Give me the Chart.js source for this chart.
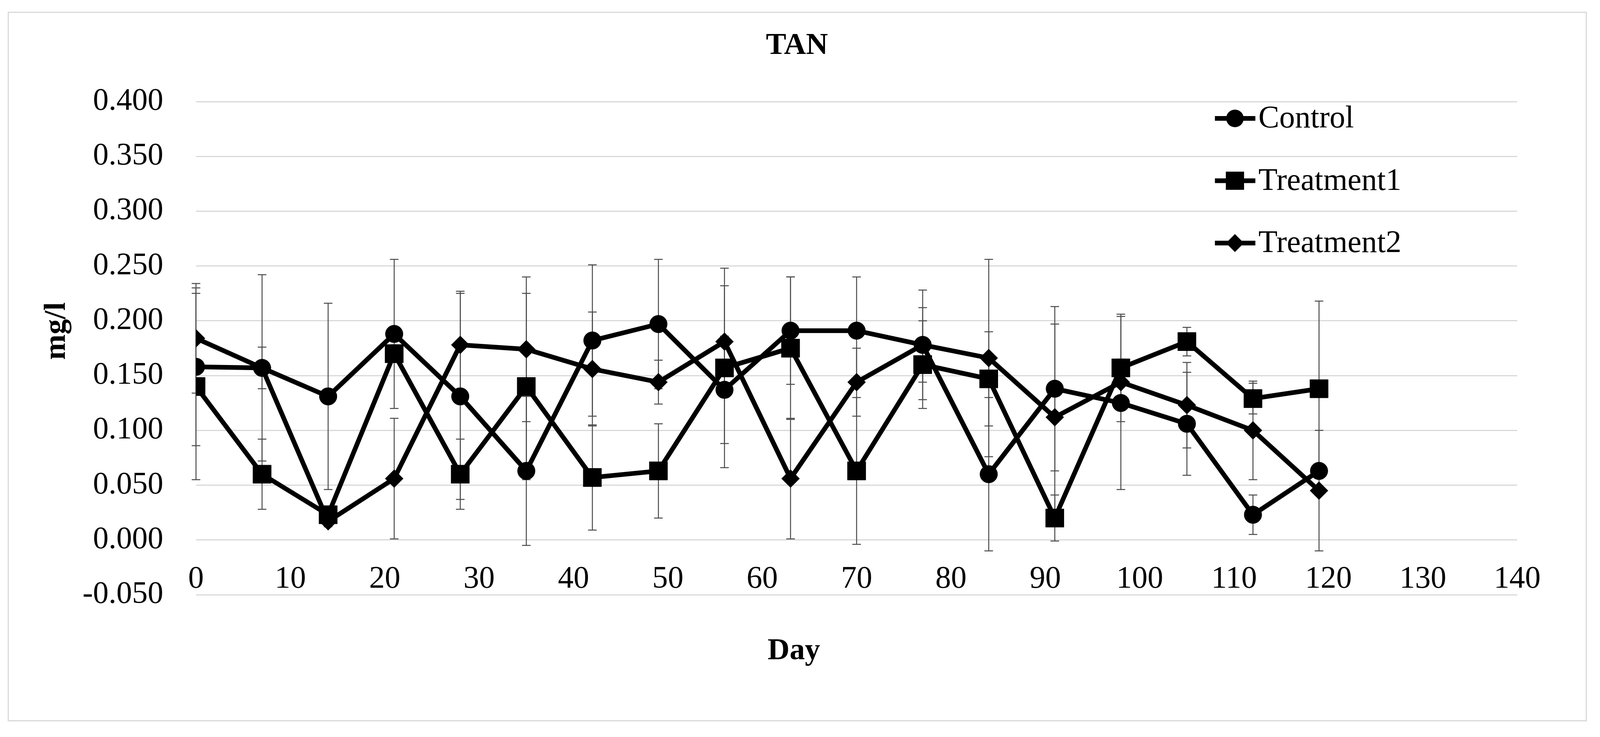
<!DOCTYPE html>
<html>
<head>
<meta charset="utf-8">
<title>TAN</title>
<script src="https://cdn.jsdelivr.net/npm/chart.js@4.4.1/dist/chart.umd.min.js"></script>
<style>
  html, body { margin: 0; padding: 0; background: #fff; overflow: hidden; }
  canvas { display: block; }
</style>
</head>
<body>
<canvas id="tanChart"></canvas>
<script>
// sampling days
const days = [0, 7, 14, 21, 28, 35, 42, 49, 56, 63, 70, 77, 84, 91, 98, 105, 112, 119];

// TAN (mg/l) means
const control    = [0.158, 0.157, 0.131, 0.188, 0.131, 0.063, 0.182, 0.197, 0.137, 0.191, 0.191, 0.178, 0.060, 0.138, 0.125, 0.106, 0.023, 0.063];
const treatment1 = [0.140, 0.060, 0.023, 0.170, 0.060, 0.140, 0.057, 0.063, 0.157, 0.175, 0.063, 0.160, 0.147, 0.020, 0.157, 0.181, 0.129, 0.138];
const treatment2 = [0.184, 0.157, 0.017, 0.056, 0.178, 0.174, 0.156, 0.144, 0.181, 0.056, 0.144, 0.178, 0.166, 0.112, 0.144, 0.123, 0.100, 0.045];

// standard deviations (error bars)
const controlErr    = [0.072, 0.085, 0.085, 0.068, 0.094, 0.068, 0.069, 0.059, 0.049, 0.049, 0.049, 0.050, 0.070, 0.075, 0.079, 0.047, 0.018, 0.005];
const treatment1Err = [0.085, 0.032, 0.005, 0.008, 0.032, 0.085, 0.048, 0.043, 0.091, 0.065, 0.067, 0.040, 0.043, 0.021, 0.049, 0.013, 0.014, 0.080];
const treatment2Err = [0.050, 0.019, 0.005, 0.055, 0.049, 0.066, 0.052, 0.020, 0.051, 0.055, 0.031, 0.034, 0.090, 0.085, 0.021, 0.039, 0.045, 0.055];

const seriesNames = ['Control', 'Treatment1', 'Treatment2'];
const yTickMin = -0.05, yTickMax = 0.4, yTickStep = 0.05;
const xTickMin = 0, xTickMax = 140, xTickStep = 10;

const toPoints = (vals) => days.map((d, i) => ({ x: d, y: vals[i] }));

// the layout was measured on a 4155 px wide picture; scale it to the window
const W = window.innerWidth || 4155;
const H = 1886;
const k = W / 4155;

const canvas = document.getElementById('tanChart');
canvas.width = W;
canvas.height = H;

Chart.defaults.font.family = "'Liberation Serif', 'Times New Roman', serif";
Chart.defaults.color = '#000';

// same marker shapes as the datasets, for the legend
function drawMarker(ctx, style, x, y, r) {
    ctx.beginPath();
    if (style === 'circle') {
        ctx.arc(x, y, r, 0, Math.PI * 2);
    } else if (style === 'rect') {
        const s = r * Math.SQRT1_2;
        ctx.rect(x - s, y - s, 2 * s, 2 * s);
    } else {
        ctx.moveTo(x - r, y);
        ctx.lineTo(x, y - r);
        ctx.lineTo(x + r, y);
        ctx.lineTo(x, y + r);
        ctx.closePath();
    }
    ctx.fill();
}

// white background and the light outer frame
const frame = {
    id: 'frame',
    beforeDraw(chart) {
        const { ctx } = chart;
        ctx.save();
        ctx.fillStyle = '#fff';
        ctx.fillRect(0, 0, chart.width, chart.height);
        ctx.strokeStyle = '#d9d9d9';
        ctx.lineWidth = 3;
        ctx.strokeRect(21.5 * k, 31.5, 4098 * k, 1813);
        ctx.restore();
    }
};

const errorBars = {
    id: 'errorBars',
    beforeDatasetsDraw(chart) {
        const { ctx, scales: { x, y } } = chart;
        ctx.save();
        ctx.strokeStyle = '#4a4a4a';
        ctx.lineWidth = 2.5;
        chart.data.datasets.forEach(ds => {
            ds.data.forEach((pt, i) => {
                const e = ds.errors[i];
                const px = x.getPixelForValue(pt.x);
                const top = y.getPixelForValue(pt.y + e);
                const bot = y.getPixelForValue(pt.y - e);
                ctx.beginPath();
                ctx.moveTo(px, top); ctx.lineTo(px, bot);
                ctx.moveTo(px - 11, top); ctx.lineTo(px + 11, top);
                ctx.moveTo(px - 11, bot); ctx.lineTo(px + 11, bot);
                ctx.stroke();
            });
        });
        ctx.restore();
    }
};

// chart title, axis titles and the legend inside the plot
const chartText = {
    id: 'chartText',
    afterDraw(chart) {
        const { ctx, chartArea, scales: { y } } = chart;
        const cx = chart.width / 2 - 8 * k;
        ctx.save();
        ctx.fillStyle = '#000';
        ctx.textAlign = 'center';
        ctx.textBaseline = 'middle';
        ctx.font = "bold 78px 'Liberation Serif', serif";
        ctx.fillText('TAN', cx, 118);
        ctx.fillText('Day', cx - 8 * k, y.getPixelForValue(0) + 285);

        ctx.save();
        ctx.translate(148 * k, 847);
        ctx.rotate(-Math.PI / 2);
        ctx.fillText('mg/l', 0, 0);
        ctx.restore();

        const lx = chartArea.right - 785 * k;
        const ly = chartArea.top + 43;
        ctx.font = "80px 'Liberation Serif', serif";
        ctx.textAlign = 'left';
        chart.data.datasets.forEach((ds, i) => {
            const cy = ly + i * 159.5;
            ctx.strokeStyle = '#000';
            ctx.lineWidth = 12;
            ctx.beginPath();
            ctx.moveTo(lx, cy);
            ctx.lineTo(lx + 105 * k, cy);
            ctx.stroke();
            drawMarker(ctx, ds.pointStyle, lx + 52 * k, cy, ds.pointRadius);
            ctx.fillText(ds.label, lx + 113 * k, cy + 2);
        });
        ctx.restore();
    }
};

function makeSet(label, vals, errs, style, radius) {
    return {
        label: label,
        data: toPoints(vals),
        errors: errs,
        borderColor: '#000',
        backgroundColor: '#000',
        borderWidth: 12,
        pointStyle: style,
        pointRadius: radius,
        pointHoverRadius: radius,
        pointBackgroundColor: '#000',
        pointBorderColor: '#000',
        pointBorderWidth: 1,
        tension: 0
    };
}

const tanChart = new Chart(canvas.getContext('2d'), {
    type: 'line',
    data: {
        datasets: [
            makeSet(seriesNames[0], control, controlErr, 'circle', 22.5),
            makeSet(seriesNames[1], treatment1, treatment1Err, 'rect', 33),
            makeSet(seriesNames[2], treatment2, treatment2Err, 'rectRot', 23)
        ]
    },
    options: {
        responsive: false,
        animation: false,
        devicePixelRatio: 1,
        layout: {
            padding: { left: 20 * k, right: 215 * k, top: 260, bottom: 364 }
        },
        plugins: {
            legend: { display: false },
            title: { display: false },
            tooltip: { enabled: false }
        },
        scales: {
            x: {
                type: 'linear',
                axis: 'x',
                position: { y: 0 },
                min: xTickMin,
                max: xTickMax,
                ticks: {
                    stepSize: xTickStep,
                    padding: 45,
                    maxRotation: 0,
                    autoSkip: false,
                    font: { size: 80 }
                },
                grid: { display: false },
                border: { display: false },
                afterFit(scale) {
                    scale.paddingLeft = 0;
                    scale.paddingRight = 0;
                }
            },
            y: {
                min: yTickMin,
                max: yTickMax,
                ticks: {
                    stepSize: yTickStep,
                    padding: 85 * k,
                    font: { size: 80 },
                    callback: (v) => v.toFixed(3)
                },
                grid: { color: '#d9d9d9', lineWidth: 3, drawTicks: false },
                border: { display: false },
                afterFit(scale) {
                    scale.width = 489 * k;
                    scale.paddingTop = 0;
                    scale.paddingBottom = 0;
                }
            }
        }
    },
    plugins: [frame, errorBars, chartText]
});
</script>
</body>
</html>
